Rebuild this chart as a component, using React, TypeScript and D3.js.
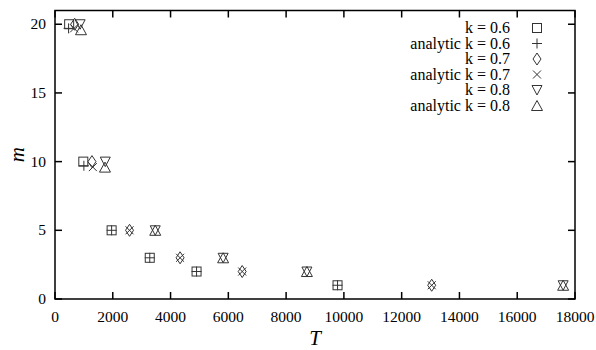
import React from "react";
import * as d3 from "d3";

const T06 = [490, 980, 1960, 3280, 4900, 9780];
const M06 = [20, 10, 5, 3, 2, 1];
const T06a = [470, 1000, 1960, 3280, 4900, 9780];
const M06a = [19.7, 9.7, 5, 3, 2, 1];
const T07 = [680, 1280, 2580, 4330, 6480, 13040];
const M07 = [20, 10, 5, 3, 2, 1];
const T07a = [660, 1310, 2580, 4330, 6480, 13040];
const M07a = [19.7, 9.6, 5, 3, 2, 1];
const T08 = [870, 1740, 3470, 5820, 8720, 17590];
const M08 = [20, 10, 5, 3, 2, 1];
const T08a = [900, 1730, 3470, 5820, 8720, 17590];
const M08a = [19.6, 9.6, 5, 3, 2, 1];

const xTicks = [0, 2000, 4000, 6000, 8000, 10000, 12000, 14000, 16000, 18000];
const yTicks = [0, 5, 10, 15, 20];

const legendLabels = ["k = 0.6", "analytic k = 0.6", "k = 0.7", "analytic k = 0.7", "k = 0.8", "analytic k = 0.8"];

type Shape = "square" | "plus" | "diamond" | "cross" | "tridown" | "triup";

const seriesList: { t: number[]; m: number[]; shape: Shape }[] = [
  { t: T06, m: M06, shape: "square" },
  { t: T06a, m: M06a, shape: "plus" },
  { t: T07, m: M07, shape: "diamond" },
  { t: T07a, m: M07a, shape: "cross" },
  { t: T08, m: M08, shape: "tridown" },
  { t: T08a, m: M08a, shape: "triup" },
];

function Marker({ x, y, shape }: { x: number; y: number; shape: Shape }) {
  const st = { fill: "none", stroke: "#333", strokeWidth: 1 };
  switch (shape) {
    case "square":
      return <rect x={x - 4.5} y={y - 4.5} width={9} height={9} {...st} />;
    case "plus":
      return <path d={`M${x - 5},${y}H${x + 5}M${x},${y - 5}V${y + 5}`} {...st} />;
    case "diamond":
      return <path d={`M${x},${y - 6}L${x + 4},${y}L${x},${y + 6}L${x - 4},${y}Z`} {...st} />;
    case "cross":
      return <path d={`M${x - 4},${y - 4}L${x + 4},${y + 4}M${x - 4},${y + 4}L${x + 4},${y - 4}`} {...st} />;
    case "tridown":
      return <path d={`M${x - 5},${y - 4.5}L${x + 5},${y - 4.5}L${x},${y + 5}Z`} {...st} />;
    case "triup":
      return <path d={`M${x - 5.5},${y + 5}L${x + 5.5},${y + 5}L${x},${y - 5}Z`} {...st} />;
  }
}

export default function App() {
  const W = 596, H = 350;
  const left = 55, right = 575, top = 10.5, bottom = 299;
  const x = d3.scaleLinear().domain([0, 18000]).range([left, right]);
  const y = d3.scaleLinear().domain([0, 21]).range([bottom, top]);
  const font = "'Liberation Serif', 'Times New Roman', serif";
  const tl = 7;
  return (
    <svg width={W} height={H} style={{ position: "absolute", left: 0, top: 0 }}>
      <rect width={W} height={H} fill="#fff" />
      {xTicks.map((t) => (
        <g key={"x" + t}>
          <line x1={x(t)} x2={x(t)} y1={bottom} y2={bottom - tl} stroke="#000" strokeWidth={1.5} />
          <line x1={x(t)} x2={x(t)} y1={top} y2={top + tl} stroke="#000" strokeWidth={1.5} />
          <text x={x(t)} y={322} textAnchor="middle" fontFamily={font} fontSize={15.5}>{t}</text>
        </g>
      ))}
      {yTicks.map((t) => (
        <g key={"y" + t}>
          <line x1={left} x2={left + tl} y1={y(t)} y2={y(t)} stroke="#000" strokeWidth={1.5} />
          <line x1={right} x2={right - tl} y1={y(t)} y2={y(t)} stroke="#000" strokeWidth={1.5} />
          <text x={46} y={y(t) + 5} textAnchor="end" fontFamily={font} fontSize={15.5}>{t}</text>
        </g>
      ))}
      <rect x={left} y={top} width={right - left} height={bottom - top} fill="none" stroke="#000" strokeWidth={1.5} />
      <text x={315} y={345} textAnchor="middle" fontFamily={font} fontStyle="italic" fontSize={21}>T</text>
      <text transform={`translate(24,${(top + bottom) / 2}) rotate(-90)`} textAnchor="middle" fontFamily={font} fontStyle="italic" fontSize={21}>m</text>
      {seriesList.map((s, si) => (
        <g key={"s" + si}>
          {s.t.map((t, i) => (
            <Marker key={i} x={x(t)} y={y(s.m[i])} shape={s.shape} />
          ))}
        </g>
      ))}
      {legendLabels.map((lab, i) => {
        const ly = 28 + i * 15.5;
        return (
          <g key={"l" + i}>
            <text x={510} y={ly + 5} textAnchor="end" fontFamily={font} fontSize={16}>{lab}</text>
            <Marker x={537} y={ly} shape={seriesList[i].shape} />
          </g>
        );
      })}
    </svg>
  );
}
